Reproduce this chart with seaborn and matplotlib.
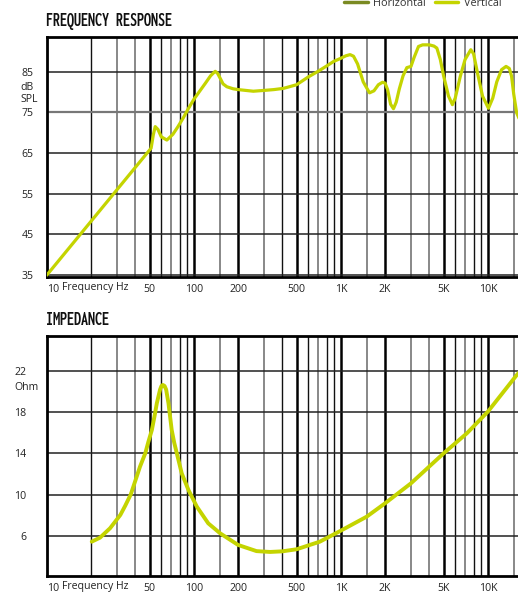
import matplotlib
matplotlib.use("Agg")
import matplotlib.pyplot as plt
from matplotlib import font_manager
from matplotlib.lines import Line2D
import pandas as pd
import seaborn as sns

# Frequency response (Vertical), Hz / dB SPL
fr_hz = [10, 51.2, 53, 54.6, 57, 60, 65.5, 72, 78, 84.9, 92, 100, 110,
         120, 130, 139.7, 145, 150, 158, 167.7, 185, 200, 254, 300, 350, 407, 500,
         600, 700, 800, 891, 1000, 1080, 1156, 1220, 1300, 1420, 1567, 1680, 1800, 1920,
         2000, 2080, 2180, 2280, 2380, 2500, 2650, 2812, 3000, 3150, 3375, 3600, 4000,
         4300, 4500, 4750, 5000, 5400, 5741, 6000, 6500, 7000, 7656, 8000, 8500, 9200,
         10100, 10800, 11500, 12400, 13300, 14000, 14500, 15000, 15700, 17000, 18500]
fr_db = [35, 66.2, 69.5, 71.5, 70.8, 69.0, 68.2, 69.6, 71.5, 73.7, 76.0, 78.2, 80.3,
         82.2, 84.0, 85.1, 84.6, 83.6, 82.0, 81.3, 80.8, 80.6, 80.2, 80.4, 80.6, 80.9, 81.8,
         83.7, 85.1, 86.4, 87.5, 88.3, 88.9, 89.2, 88.8, 86.9, 82.5, 79.8, 80.3, 81.8, 82.4,
         82.2, 80.6, 77.0, 75.9, 77.5, 80.8, 84.0, 86.0, 86.3, 88.5, 91.2, 91.6, 91.6,
         91.3, 90.8, 88.0, 84.0, 79.0, 76.9, 78.5, 83.9, 88.0, 90.4, 89.4, 84.7, 79.0,
         76.0, 78.5, 82.5, 85.5, 86.3, 85.8, 83.9, 79.5, 74.9, 72.0, 71.0]

# Impedance, Hz / Ohm
imp_hz = [20.2, 23.0, 26.9, 31.6, 34.1, 37.2, 39.9, 43.0, 46.7, 49.0, 51.8, 54.0, 56.0, 58.9,
          60.2, 61.5, 63.2, 64.8, 67.2, 70.7, 73.5, 76.6, 82.7, 91.9, 104.8, 125.3, 151, 200, 267,
          330, 400, 500, 720, 1000, 1500, 2000, 3000, 5000, 7200, 10000, 15700, 20000]
imp_ohm = [5.42, 5.81, 6.72, 8.01, 8.9, 10.0, 11.3, 12.7, 14.0, 15.1, 16.27, 17.6, 18.87, 20.2,
           20.55, 20.65, 20.55, 20.2, 18.87, 16.27, 15.05, 14.0, 12.06, 10.44, 8.82, 7.2, 6.23, 5.1, 4.5,
           4.42, 4.48, 4.68, 5.42, 6.49, 7.85, 9.15, 11.09, 14.0, 15.95, 18.05, 21.6, 23.2]

fr_ticks = [85, 75, 65, 55, 45, 35]
imp_ticks = [22, 18, 14, 10, 6]
x_ticks = [10, 50, 100, 200, 500, 1000, 2000, 5000, 10000, 20000]
x_labels = ["10", "50", "100", "200", "500", "1K", "2K", "5K", "10K", "20K"]

# grid lines by style
thick_lines = [50, 100, 200, 500, 1000, 2000, 5000, 10000]
black_lines = [20, 60, 80, 90, 400, 600, 800, 900, 6000, 8000, 9000]
gray_lines = [30, 40, 70, 150, 300, 700, 1500, 3000, 4000, 7000, 15000]

GREEN = "#c4d400"
OLIVE = "#7a8a22"
TXT = "#222222"

sns.set_style("white")
plt.rcParams["font.family"] = ["Open Sans", "DejaVu Sans"]


def condensed_bold():
    # look for a narrow bold face for the section titles
    prefs = ["extracondensedbold", "extracondensed-bold", "condensed-bold", "condensedbold",
             "narrow-bold", "narrowbold", "condensed_bold"]
    files = [f.fname for f in font_manager.fontManager.ttflist]
    for p in prefs:
        for fn in files:
            low = fn.lower().replace(" ", "")
            if p in low and "italic" not in low and "semi" not in low:
                return font_manager.FontProperties(fname=fn, size=14.5)
    return font_manager.FontProperties(family="DejaVu Sans", weight="bold", size=9)


fig = plt.figure(figsize=(5.18, 6.10), dpi=100)
ax1 = fig.add_axes([0.0902, 0.5464, 0.937, 0.3934])
ax2 = fig.add_axes([0.0902, 0.0562, 0.937, 0.3934])


def style_axes(ax, yticks, ylim, ypad):
    ax.set_xscale("log")
    ax.set_xlim(9.98, 20000)
    ax.set_ylim(*ylim)
    for f in gray_lines:
        ax.axvline(f, color="#888888", lw=1.4, zorder=1)
    for f in black_lines:
        ax.axvline(f, color="#111111", lw=1.0, zorder=1)
    for f in thick_lines:
        ax.axvline(f, color="#000000", lw=1.8, zorder=1)
    for v in yticks:
        ax.axhline(v, color="#222222", lw=1.1, zorder=1)
    ax.set_yticks(yticks)
    ax.set_yticklabels([str(v) for v in yticks])
    ax.set_xticks(x_ticks)
    ax.set_xticklabels(x_labels)
    ax.xaxis.set_minor_locator(matplotlib.ticker.NullLocator())
    ax.tick_params(axis="both", length=0, labelsize=7.6, colors=TXT)
    ax.tick_params(axis="y", pad=ypad)
    ax.tick_params(axis="x", pad=5)
    ax.get_xticklabels()[0].set_horizontalalignment("left")
    for s in ["left", "bottom", "top"]:
        ax.spines[s].set_color("black")
        ax.spines[s].set_linewidth(2.0)
    ax.spines["right"].set_visible(False)
    ax.text(0.101, -0.045, "Frequency Hz", transform=ax.transAxes, ha="center", va="center",
            fontsize=7.6, color=TXT)


fr = pd.DataFrame({"Hz": fr_hz, "dB": fr_db})
imp = pd.DataFrame({"Hz": imp_hz, "Ohm": imp_ohm})

style_axes(ax1, fr_ticks, (34.6, 93.6), 9.6)
sns.lineplot(data=fr, x="Hz", y="dB", ax=ax1, color=GREEN, lw=2.3, estimator=None, sort=False, zorder=3)
ax1.axhline(75, color="#777777", lw=1.6, zorder=1)
style_axes(ax2, imp_ticks, (2.11, 25.43), 14.9)
sns.lineplot(data=imp, x="Hz", y="Ohm", ax=ax2, color=GREEN, lw=2.8, estimator=None, sort=False, zorder=3)
for ax in (ax1, ax2):
    ax.set_xlabel("")
    ax.set_ylabel("")

# unit labels beside the y ticks
ax1.text(-0.0536, 79.7, "dB\nSPL", transform=ax1.get_yaxis_transform(), ha="left", va="center",
         fontsize=7.6, color=TXT, linespacing=1.15)
ax2.text(-0.066, 20.4, "Ohm", transform=ax2.get_yaxis_transform(), ha="left", va="center",
         fontsize=7.6, color=TXT)

tfont = condensed_bold()
fig.text(0.089, 0.966, "FREQUENCY RESPONSE", fontproperties=tfont, ha="left", va="center", color="#111111")
fig.text(0.089, 0.4746, "IMPEDANCE", fontproperties=tfont, ha="left", va="center", color="#111111")

handles = [Line2D([], [], color=OLIVE, lw=2.5), Line2D([], [], color=GREEN, lw=2.5)]
fig.legend(handles, ["Horizontal", "Vertical"], loc="center left", bbox_to_anchor=(0.664, 0.9945),
           ncol=2, frameon=False, fontsize=7.8, handlelength=2.2, handletextpad=0.5,
           columnspacing=0.8, borderpad=0, borderaxespad=0, labelcolor="#333333")

fig.savefig("out.png", dpi=100)
